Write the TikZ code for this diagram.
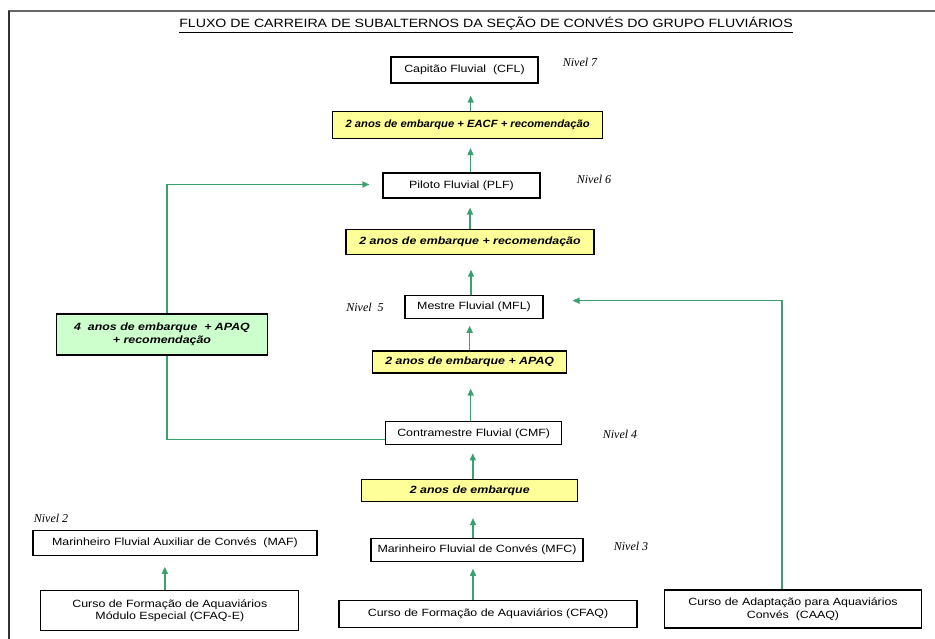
\documentclass[tikz,border=0pt]{standalone}
\usepackage{fontspec}
\setmainfont[FakeStretch=1.18]{Liberation Sans}
\newfontfamily\narsans[FakeStretch=1.07]{Liberation Sans}
\newfontfamily\timesf{Liberation Serif}
\usetikzlibrary{arrows.meta}
\definecolor{conn}{RGB}{60,160,110}
\definecolor{yel}{RGB}{255,255,153}
\definecolor{grn}{RGB}{204,255,204}
\tikzset{
  box/.style={draw=black, line width=1.1pt, inner sep=0pt, align=center, font=\fontsize{10.5}{12.5}\selectfont},
  ybox/.style={box, fill=yel, font=\fontsize{10.5}{12.5}\selectfont\bfseries\itshape},
  gbox/.style={box, fill=grn, font=\fontsize{10.5}{12.5}\selectfont\bfseries\itshape},
  lvl/.style={font=\timesf\itshape\fontsize{12}{14}\selectfont, inner sep=0pt},
  conline/.style={draw=conn, line width=1.4pt},
  arr/.style={conline, -{Triangle[length=7pt,width=6pt]}},
}
\begin{document}
\begin{tikzpicture}[x=1pt,y=-1pt]
\useasboundingbox (0,0) rectangle (935,639);
% frame
\draw[line width=2pt, draw=black!60] (8,11) -- (935,11);
\draw[line width=1.5pt, draw=black!80] (9,11) -- (9,639);
% title
\node[inner sep=0pt, font=\fontsize{12}{14}\selectfont] (title) at (486,25) {\underline{FLUXO DE CARREIRA DE SUBALTERNOS DA SEÇÃO DE CONVÉS DO GRUPO FLUVIÁRIOS}};
% boxes
\node[box, minimum width=147pt, minimum height=26pt] (cfl) at (464.5,70) {Capitão Fluvial\ \ (CFL)};
\node[ybox, minimum width=270pt, minimum height=27pt, font=\narsans\fontsize{10.5}{12.5}\selectfont\bfseries\itshape] (y1) at (467.7,125) {2 anos de embarque + EACF + recomendação};
\node[box, minimum width=157pt, minimum height=25pt] (plf) at (461.5,185.5) {Piloto Fluvial (PLF)};
\node[ybox, minimum width=248pt, minimum height=25pt] (y2) at (470,241.7) {2 anos de embarque + recomendação};
\node[box, minimum width=138pt, minimum height=23pt] (mfl) at (474,306.7) {Mestre Fluvial (MFL)};
\node[ybox, minimum width=194pt, minimum height=22pt] (y3) at (469.7,362) {2 anos de embarque + APAQ};
\node[box, minimum width=176pt, minimum height=23pt] (cmf) at (473.7,433.3) {Contramestre Fluvial (CMF)};
\node[ybox, minimum width=216pt, minimum height=22pt] (y4) at (469.8,490.5) {2 anos de embarque};
\node[box, minimum width=212pt, minimum height=23pt] (mfc) at (477,549.7) {Marinheiro Fluvial de Convés (MFC)};
\node[box, minimum width=284pt, minimum height=25pt] (maf) at (175,542.7) {Marinheiro Fluvial Auxiliar de Convés\ \ (MAF)};
\node[box, minimum width=258pt, minimum height=40pt] (cfaqe) at (169.8,610.7) {Curso de Formação de Aquaviários\\Módulo Especial (CFAQ-E)};
\node[box, minimum width=298pt, minimum height=27pt] (cfaq) at (488,614) {Curso de Formação de Aquaviários (CFAQ)};
\node[box, minimum width=257pt, minimum height=38pt] (caaq) at (793,609) {Curso de Adaptação para Aquaviários\\Convés\ \ (CAAQ)};
\node[gbox, minimum width=211pt, minimum height=41pt] (gb) at (162,334.5) {4\ \ anos de embarque\ \ + APAQ\\+ recomendação};
% levels
\node[lvl] (n7) at (580,62) {Nivel 7};
\node[lvl] (n6) at (594,179) {Nivel 6};
\node[lvl] (n5) at (365,307) {Nivel\ \ 5};
\node[lvl] (n4) at (620,434) {Nivel 4};
\node[lvl] (n3) at (631,546) {Nivel 3};
\node[lvl] (n2) at (51,518) {Nivel 2};
% vertical arrows
\draw[arr, shorten >=12pt] ([xshift=3pt]y1.north) -- ([xshift=3pt]y1.north |- cfl.south);
\draw[arr, shorten >=9pt] ([xshift=9pt]plf.north) -- ([xshift=9pt]plf.north |- y1.south);
\draw[arr, shorten >=9pt] (y2.north) -- (y2.north |- plf.south);
\draw[arr, shorten >=15pt] ([xshift=-3pt]mfl.north) -- ([xshift=-3pt]mfl.north |- y2.south);
\draw[arr, shorten >=7pt] (y3.north) -- (y3.north |- mfl.south);
\draw[arr, shorten >=15pt] ([xshift=-3pt]cmf.north) -- ([xshift=-3pt]cmf.north |- y3.south);
\draw[arr, shorten >=8pt] ([xshift=3pt]y4.north) -- ([xshift=3pt]y4.north |- cmf.south);
\draw[arr, shorten >=16pt] ([xshift=-4pt]mfc.north) -- ([xshift=-4pt]mfc.north |- y4.south);
\draw[arr, shorten >=7pt] ([xshift=-15pt]cfaq.north) -- ([xshift=-15pt]cfaq.north |- mfc.south);
\draw[arr, shorten >=11pt] ([xshift=-5pt]cfaqe.north) -- ([xshift=-5pt]cfaqe.north |- maf.south);
% left loop
\draw[arr, shorten >=13pt] ([xshift=5pt]gb.north) |- ([yshift=1pt]plf.west);
\draw[conline] ([xshift=5pt]gb.south) |- ([yshift=-6pt]cmf.west);
% right loop
\draw[arr, shorten >=29pt] ([xshift=-11pt]caaq.north) |- ([yshift=6pt]mfl.east);
\end{tikzpicture}
\end{document}
